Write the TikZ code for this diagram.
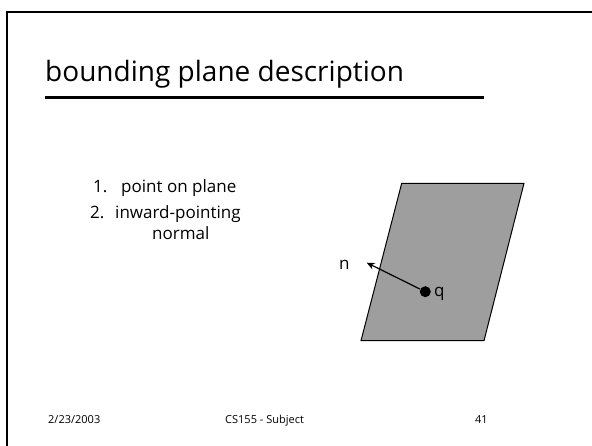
\documentclass[tikz,border=0pt]{standalone}
\usepackage{fontspec}
\setmainfont{Open Sans}
\usetikzlibrary{arrows.meta}
\begin{document}
\begin{tikzpicture}[x=1pt,y=-1pt,
  frameline/.style={line width=2pt,black},
  txt/.style={inner sep=0pt,anchor=base west},
  foot/.style={inner sep=0pt,anchor=base west,font=\fontsize{11}{13}\selectfont},
  item/.style={inner sep=0pt,anchor=base west,font=\fontsize{17}{20}\selectfont}]
\useasboundingbox (0,0) rectangle (592,446);
\fill[white] (0,0) rectangle (592,446);
% slide frame
\draw[frameline] (7,446) -- (7,12) -- (592,12);
% title
\node[txt,font=\fontsize{28}{32}\selectfont] (title) at (45,82) {bounding plane description};
\draw[line width=3pt] (45,98) -- (484,98);
% list
\node[item] (n1) at (93,193) {1.};
\node[item] (t1) at (121,193) {point on plane};
\node[item] (n2) at (90,219) {2.};
\node[item] (t2) at (115,219) {inward-pointing};
\node[item] (t3) at (152,240) {normal};
% plane
\filldraw[fill=black!38,draw=black,line width=1pt] (401.7,183.3) -- (524,183.3) -- (484,340.7) -- (361,340.7) -- cycle;
\node[circle,fill=black,inner sep=0pt,minimum size=11pt] (q) at (425.3,291.7) {};
\coordinate (tip) at (366.7,262.7);
\draw[line width=1.2pt,-{Stealth[length=8pt,width=7pt]}] (q) -- (tip);
\node[item] (nl) at (339,270) {n};
\node[item] (ql) at (434,297) {q};
% footer
\node[foot] (d) at (48,423) {2/23/2003};
\node[foot] (s) at (225,423) {CS155 - Subject};
\node[foot] (p) at (475,423) {41};
\end{tikzpicture}
\end{document}
